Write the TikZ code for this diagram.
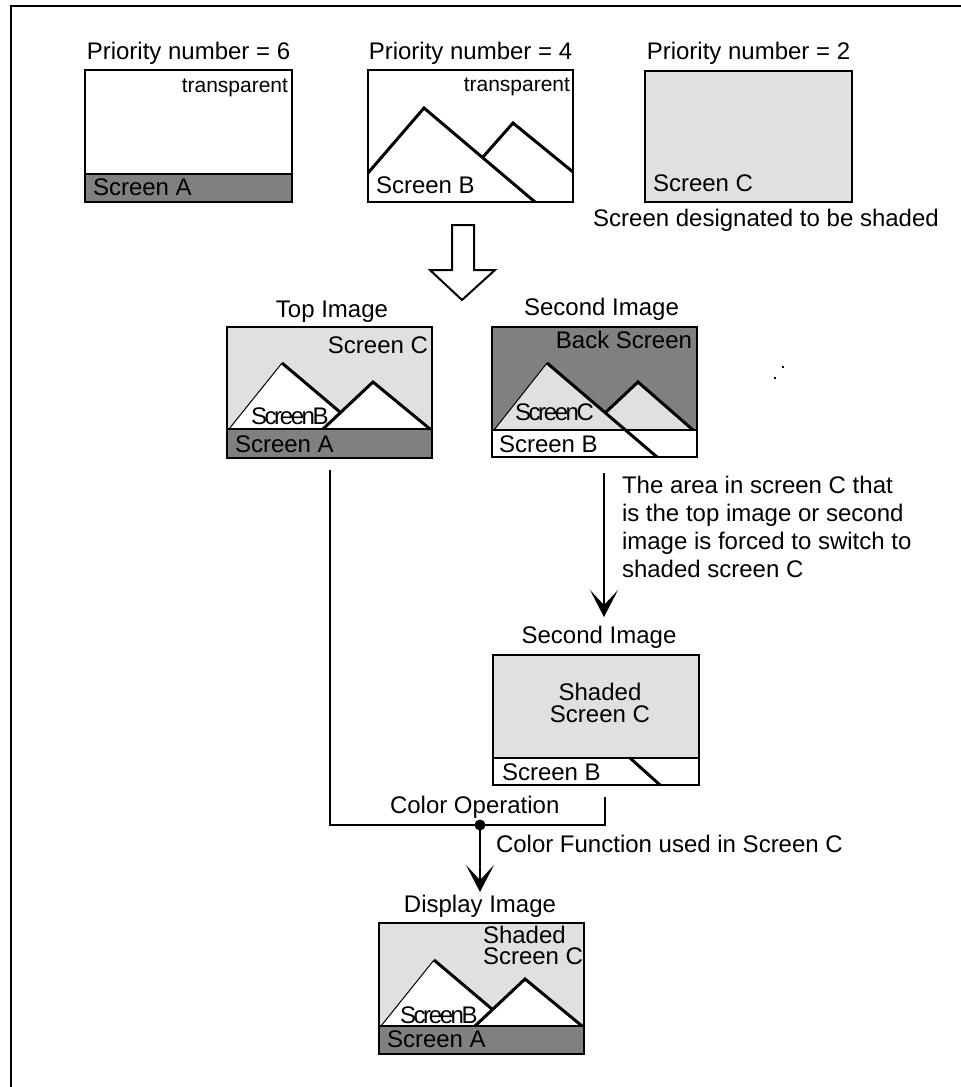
\documentclass[tikz,border=0pt]{standalone}
\usepackage{fontspec}
\setmainfont{Liberation Sans}
\usetikzlibrary{arrows.meta,calc}
\definecolor{dkgray}{RGB}{128,128,128}
\definecolor{ltgray}{RGB}{223,224,226}
\begin{document}
\begin{tikzpicture}[x=1pt,y=-1pt,
  every node/.style={inner sep=0pt,outer sep=0pt,font=\fontsize{24}{28}\selectfont},
  small/.style={font=\fontsize{21}{24}\selectfont},
  tight/.style={font=\fontsize{24}{28}\selectfont\addfontfeature{LetterSpace=-10}},
  scr/.style={draw,line width=2.5pt,minimum width=205pt,minimum height=131pt,anchor=north west},
  mount/.style={line width=3pt,line join=miter},
  thinline/.style={line width=1pt},
  band/.style={line width=2.5pt},
  conn/.style={line width=2pt},
  arr/.style={line width=2pt,-{Stealth[length=27pt,width=28pt,inset=15pt]}},
]
\clip (0,0) rectangle (961,1087);
\fill[white] (0,0) rectangle (961,1087);
% outer frame
\draw[line width=2pt] (11,1100) -- (11,6) -- (980,6);

% ---------- Screen A ----------
\fill[dkgray] (85,174) rectangle (292,202);
\draw[band] (85,174) -- (292,174);
\node[small,anchor=base east] (transA) at (288,92) {transparent};
\node[anchor=base west] (scrA) at (93,195) {Screen A};
\node[scr,minimum width=207pt,minimum height=132pt] (boxA) at (85,70) {};
\node[anchor=base] (prio6) at (188.5,59) {Priority number = 6};

% ---------- Screen B ----------
\draw[mount] (368,173) -- (424,108) -- (535,202);
\draw[mount] (483,157) -- (513,123) -- (573,172);
\node[small,anchor=base east] (transB) at (570,91) {transparent};
\node[anchor=base west] (scrB) at (376,193) {Screen B};
\node[scr,minimum height=132pt] (boxB) at (368,70) {};
\node[anchor=base] (prio4) at (470.5,59) {Priority number = 4};

% ---------- Screen C ----------
\node[scr,fill=ltgray,minimum width=207pt] (boxC) at (645,71) {};
\node[anchor=base west] (scrC) at (653,191) {Screen C};
\node[anchor=base] (prio2) at (748.5,59) {Priority number = 2};
\node[anchor=base] (desig) at (766,226) {Screen designated to be shaded};

% ---------- hollow arrow ----------
\draw[line width=2pt,fill=white,line join=miter]
  (452,225) -- (474,225) -- (474,270) -- (495,270) -- (462,300) -- (430,270) -- (452,270) -- cycle;

% ---------- Top Image ----------
\begin{scope}[shift={(227,327)}]
  \fill[ltgray] (0,0) rectangle (205,102);
  \fill[dkgray] (0,102) rectangle (205,131);
  \fill[white] (2,102) -- (55,36) -- (132,102) -- cycle;
  \fill[white] (96,102) -- (146,55) -- (203,102) -- cycle;
  \draw[thinline] (2,102) -- (55,36);
  \draw[mount] (55,36) -- (113.5,85.5);
  \draw[mount] (96,102) -- (146,55) -- (203,102);
  \draw[band] (0,102) -- (205,102);
\end{scope}
\node[anchor=base east] (topC) at (428,353) {Screen C};
\node[tight,anchor=base west] (topB) at (251,424) {ScreenB};
\node[anchor=base west] (topA) at (235,452) {Screen A};
\node[scr] (topimg) at (227,327) {};
\node[anchor=base] (toplbl) at (332,317) {Top Image};

% ---------- Second Image ----------
\begin{scope}[shift={(492,327)}]
  \fill[dkgray] (0,0) rectangle (205,103);
  \fill[ltgray] (2,103) -- (55,36) -- (133,103) -- cycle;
  \fill[ltgray] (96,103) -- (146,55) -- (203,103) -- cycle;
  \draw[thinline] (2,103) -- (55,36);
  \draw[mount] (113,86) -- (146,55) -- (201,103);
  \draw[band] (0,103) -- (205,103);
  \draw[mount] (55,36) -- (165,130);
\end{scope}
\node[anchor=base east] (secBack) at (692,348) {Back Screen};
\node[tight,anchor=base west] (secC) at (515,420) {ScreenC};
\node[anchor=base west] (secB) at (499,452) {Screen B};
\node[scr,minimum height=130pt] (secimg) at (492,327) {};
\node[anchor=base] (seclbl) at (601.5,315) {Second Image};

% stray dots
\fill (782,366) rectangle (784,368);
\fill (774,377) rectangle (776,379);

% ---------- note ----------
\node[anchor=base west] (note1) at (622,493) {The area in screen C that};
\node[anchor=base west] (note2) at (622,521) {is the top image or second};
\node[anchor=base west] (note3) at (622,549) {image is forced to switch to};
\node[anchor=base west] (note4) at (622,577) {shaded screen C};

% ---------- lower Second Image ----------
\begin{scope}[shift={(493,655)}]
  \fill[ltgray] (0,0) rectangle (206,103);
  \draw[band] (0,103) -- (206,103);
  \draw[mount] (137,103) -- (167,130);
\end{scope}
\node[align=center,anchor=base,font=\fontsize{24}{22}\selectfont] (shadedC) at (600,722) {Shaded\\Screen C};
\node[anchor=base west] (lowB) at (502,780) {Screen B};
\node[scr,minimum width=206pt,minimum height=130pt] (lowimg) at (493,655) {};
\node[anchor=base] (lowlbl) at (599,643) {Second Image};

% ---------- Display Image ----------
\begin{scope}[shift={(379,923)}]
  \fill[ltgray] (0,0) rectangle (205,103);
  \fill[dkgray] (0,103) rectangle (205,131);
  \fill[white] (2,103) -- (55,37) -- (133,103) -- cycle;
  \fill[white] (96,103) -- (146,56) -- (203,103) -- cycle;
  \draw[thinline] (2,103) -- (55,37);
  \draw[mount] (55,37) -- (113.5,86.5);
  \draw[mount] (96,103) -- (146,56) -- (203,103);
  \draw[band] (0,103) -- (205,103);
\end{scope}
\node[anchor=base west,align=left,font=\fontsize{24}{21}\selectfont] (dispC) at (483,964) {Shaded\\Screen C};
\node[tight,anchor=base west] (dispB) at (400,1023) {ScreenB};
\node[anchor=base west] (dispA) at (387,1047) {Screen A};
\node[scr] (dispimg) at (379,923) {};
\node[anchor=base] (displbl) at (480,912) {Display Image};

% ---------- connectors ----------
\coordinate (dot) at (480,825);
\coordinate (arrA) at ($(secimg.south)+(9.5,16)$);
\coordinate (arrB) at ($(secimg.south)+(9.5,160)$);
\coordinate (arrC) at ($(dot)+(0,67)$);
\draw[conn] ($(topimg.south)+(0.5,12)$) |- (dot);
\draw[conn] (dot) -| ($(lowimg.south)+(9,12)$);
\fill (dot) circle (5.5);
\node[anchor=base west] (colop) at (390,813) {Color Operation};
\draw[arr] (arrA) -- (arrB);
\draw[arr] (dot) -- (arrC);
\node[anchor=base west] (colfn) at (496,852) {Color Function used in Screen C};
\end{tikzpicture}
\end{document}
